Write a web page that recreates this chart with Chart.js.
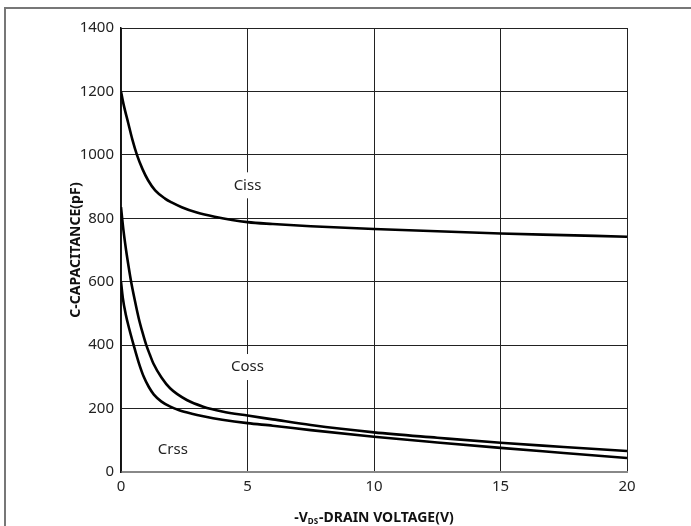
<!DOCTYPE html>
<html>
<head>
<meta charset="utf-8">
<script src="https://cdn.jsdelivr.net/npm/chart.js@4/dist/chart.umd.min.js"></script>
<style>
  html, body { margin: 0; padding: 0; background: #fff; overflow: hidden; }
  #wrap { position: relative; width: 691px; height: 526px; }
  #frame { position: absolute; left: 4px; top: 7px; width: 800px; height: 600px;
           border-left: 2px solid #777; border-top: 2px solid #777; }
  canvas { position: absolute; left: 0; top: 0; }
</style>
</head>
<body>
<div id="wrap">
  <div id="frame"></div>
  <canvas id="capChart" width="691" height="526"></canvas>
</div>
<script>
// -VDS (V) and capacitance (pF)
var cissV = [0, 0.1, 0.28, 0.45, 0.63, 0.85, 1.07, 1.35, 1.74, 2, 2.4, 3, 3.7, 5, 6, 7.5, 10, 12.5, 15, 17.5, 20];
var cissC = [1200, 1160, 1102, 1048, 1000, 955, 920, 888, 862, 850, 835, 818, 805, 788, 782, 775, 766, 759, 752, 747, 742];

var cossV = [0, 0.1, 0.2, 0.3, 0.4, 0.55, 0.7, 0.85, 1, 1.15, 1.28, 1.6, 1.94, 2.6, 3.25, 4, 5, 6, 7.5, 10, 12.5, 15, 17.5, 20];
var cossC = [835, 760, 700, 648, 600, 540, 485, 440, 400, 368, 342, 298, 264, 227, 206, 191, 178, 166, 148, 125, 108, 92, 79, 66];

var crssV = [0, 0.07, 0.18, 0.33, 0.5, 0.7, 0.9, 1.1, 1.3, 1.6, 1.95, 2.3, 2.8, 3.25, 4, 5, 6, 7.5, 10, 12.5, 15, 17.5, 20];
var crssC = [600, 550, 500, 450, 400, 345, 300, 268, 244, 222, 206, 195, 184, 176, 165, 154, 146, 132, 111, 93, 76, 60, 44];

var xTicks = [0, 5, 10, 15, 20];
var yTicks = [0, 200, 400, 600, 800, 1000, 1200, 1400];

// curve names and where they sit (data units)
var curveLabels = [
    { text: "Ciss", x: 5, y: 904 },
    { text: "Coss", x: 5, y: 331 },
    { text: "Crss", x: 2.05, y: 69 }
];

function pts(xs, ys) {
    return xs.map(function (v, i) { return { x: v, y: ys[i] }; });
}

var FONT = "'Noto Sans', 'Open Sans', sans-serif";

function curve(name, xs, ys) {
    return {
        label: name,
        data: pts(xs, ys),
        borderColor: "#000",
        borderWidth: 2.6,
        pointRadius: 0,
        fill: false,
        cubicInterpolationMode: 'monotone'
    };
}

var labelPlugin = {
    id: 'labels',
    afterDatasetsDraw: function (chart) {
        var ctx = chart.ctx;
        var xs = chart.scales.x, ys = chart.scales.y;
        ctx.save();
        ctx.font = "15px " + FONT;
        ctx.textAlign = 'center';
        ctx.textBaseline = 'middle';
        curveLabels.forEach(function (l) {
            var px = xs.getPixelForValue(l.x);
            var py = ys.getPixelForValue(l.y);
            var w = ctx.measureText(l.text).width;
            ctx.fillStyle = '#fff';
            ctx.fillRect(px - w / 2 - 3, py - 13, w + 6, 26);
            ctx.fillStyle = '#222';
            ctx.fillText(l.text, px, py);
        });
        ctx.restore();
    },
    afterDraw: function (chart) {
        var ctx = chart.ctx;
        var area = chart.chartArea;
        ctx.save();
        ctx.fillStyle = '#111';
        // y title
        ctx.font = "bold 14px " + FONT;
        ctx.textAlign = 'center';
        ctx.textBaseline = 'middle';
        ctx.translate(76, (area.top + area.bottom) / 2);
        ctx.rotate(-Math.PI / 2);
        ctx.fillText("C-CAPACITANCE(pF)", 0, 0);
        ctx.restore();

        // x title with subscript DS
        ctx.save();
        ctx.fillStyle = '#111';
        ctx.textBaseline = 'alphabetic';
        ctx.textAlign = 'left';
        var big = "bold 14px " + FONT, small = "bold 8px " + FONT;
        var p1 = "-V", p2 = "DS", p3 = "-DRAIN VOLTAGE(V)";
        ctx.font = big;
        var w1 = ctx.measureText(p1).width, w3 = ctx.measureText(p3).width;
        ctx.font = small;
        var w2 = ctx.measureText(p2).width + 1;
        var total = w1 + w2 + w3;
        var x0 = (area.left + area.right) / 2 - total / 2;
        var base = 522;
        ctx.font = big;
        ctx.fillText(p1, x0, base);
        ctx.font = small;
        ctx.fillText(p2, x0 + w1, base + 2);
        ctx.font = big;
        ctx.fillText(p3, x0 + w1 + w2, base);
        ctx.restore();
    }
};

new Chart('capChart', {
    type: 'line',
    data: {
        datasets: [
            curve("Ciss", cissV, cissC),
            curve("Coss", cossV, cossC),
            curve("Crss", crssV, crssC)
        ]
    },
    options: {
        responsive: false,
        animation: false,
        layout: {
            padding: { left: 0, top: 28, right: 64, bottom: 0 }
        },
        scales: {
            x: {
                type: 'linear',
                min: 0,
                max: 20,
                afterBuildTicks: function (s) {
                    s.ticks = xTicks.map(function (v) { return { value: v }; });
                },
                afterFit: function (s) { s.height = 54; },
                ticks: {
                    color: '#222',
                    font: { family: FONT, size: 15 },
                    padding: 6,
                    maxRotation: 0,
                    callback: function (v) { return String(v); }
                },
                grid: { color: '#222', lineWidth: 1, drawTicks: false },
                border: { color: '#888', width: 2 }
            },
            y: {
                min: 0,
                max: 1400,
                afterBuildTicks: function (s) {
                    s.ticks = yTicks.map(function (v) { return { value: v }; });
                },
                afterFit: function (s) { s.width = 121; },
                ticks: {
                    color: '#222',
                    font: { family: FONT, size: 15 },
                    padding: 7,
                    callback: function (v) { return String(v); }
                },
                grid: { color: '#222', lineWidth: 1, drawTicks: false },
                border: { color: '#111', width: 1.5 }
            }
        },
        plugins: {
            legend: { display: false },
            tooltip: { enabled: false }
        }
    },
    plugins: [labelPlugin]
});
</script>
</body>
</html>
